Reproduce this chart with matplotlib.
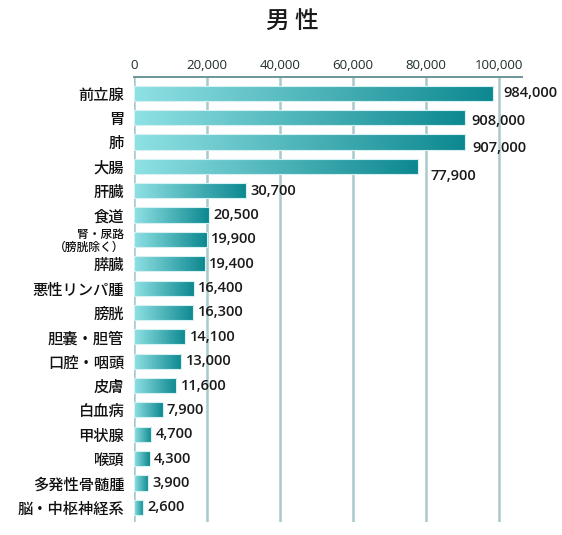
import numpy as np
import matplotlib.pyplot as plt
from matplotlib.colors import LinearSegmentedColormap

plt.rcParams['font.family'] = ['Noto Sans CJK JP', 'DejaVu Sans']

# data (bar length is in axis units, label is the printed text)
sites = ["前立腺", "胃", "肺", "大腸", "肝臓", "食道", "腎・尿路\n（膀胱除く）", "膵臓",
         "悪性リンパ腫", "膀胱", "胆嚢・胆管", "口腔・咽頭", "皮膚", "白血病",
         "甲状腺", "喉頭", "多発性骨髄腫", "脳・中枢神経系"]
lengths = [98400, 90800, 90700, 77900, 30700, 20500, 19900, 19400, 16400, 16300,
           14100, 13000, 11600, 7900, 4700, 4300, 3900, 2600]
labels = ["984,000", "908,000", "907,000", "77,900", "30,700", "20,500", "19,900",
          "19,400", "16,400", "16,300", "14,100", "13,000", "11,600", "7,900",
          "4,700", "4,300", "3,900", "2,600"]
ticks = [0, 20000, 40000, 60000, 80000, 100000]

# label nudges in points (first rows are placed lower in the original)
dx = [7, 4, 5.5, 9] + [3] * 14
dy = [0, -2.5, -4, -7] + [0] * 14

fig = plt.figure(figsize=(5.62, 5.35), dpi=100)
ax = fig.add_axes([0.2384, 0.0243, 0.6905, 0.8315])

cmap = LinearSegmentedColormap.from_list("teal", ["#8fe1e4", "#0d8890"])
grad = np.linspace(0, 1, 256).reshape(1, -1)

ypos = np.arange(len(sites))
bars = ax.barh(ypos, lengths, height=0.62, color="none", edgecolor="#d6f1f2",
               linewidth=0.8, zorder=3)
for b in bars:
    x0, y0, w, h = b.get_x(), b.get_y(), b.get_width(), b.get_height()
    im = ax.imshow(grad, cmap=cmap, aspect="auto", extent=(x0, x0 + w, y0 + h, y0),
                   zorder=2, interpolation="bilinear")
    im.set_clip_path(b)

for i, (v, t) in enumerate(zip(lengths, labels)):
    ax.annotate(t, (v, i), xytext=(dx[i], dy[i]), textcoords="offset points",
                va="center", ha="left", fontsize=10.5, fontweight="semibold",
                color="#1a1a1a", family=["Open Sans", "DejaVu Sans"])

ax.set_xlim(0, 106300)
ax.set_ylim(17.6, -0.66)
ax.set_yticks(ypos)
ax.set_yticklabels(sites)
for i, lab in enumerate(ax.get_yticklabels()):
    lab.set_fontsize(8.5 if "\n" in sites[i] else 11)
    lab.set_fontweight("medium")
    lab.set_linespacing(1.0)
ax.tick_params(axis="y", length=0, pad=7, colors="#111111")

ax.xaxis.tick_top()
ax.set_xticks(ticks)
ax.set_xticklabels([f"{t:,}" for t in ticks], family=["Open Sans", "DejaVu Sans"])
ax.tick_params(axis="x", length=0, pad=4, labelsize=9.5, colors="#1f2d2d")
ax.grid(axis="x", color="#a9c9ca", linewidth=1.8, zorder=1)

for s in ["right", "bottom", "left"]:
    ax.spines[s].set_visible(False)
ax.spines["top"].set_color("#6a9698")
ax.spines["top"].set_linewidth(1.4)

fig.text(0.521, 0.959, "男 性", ha="center", va="center", fontsize=17,
         fontweight="medium", color="#1a1a1a")

fig.savefig("out.png", dpi=100)
